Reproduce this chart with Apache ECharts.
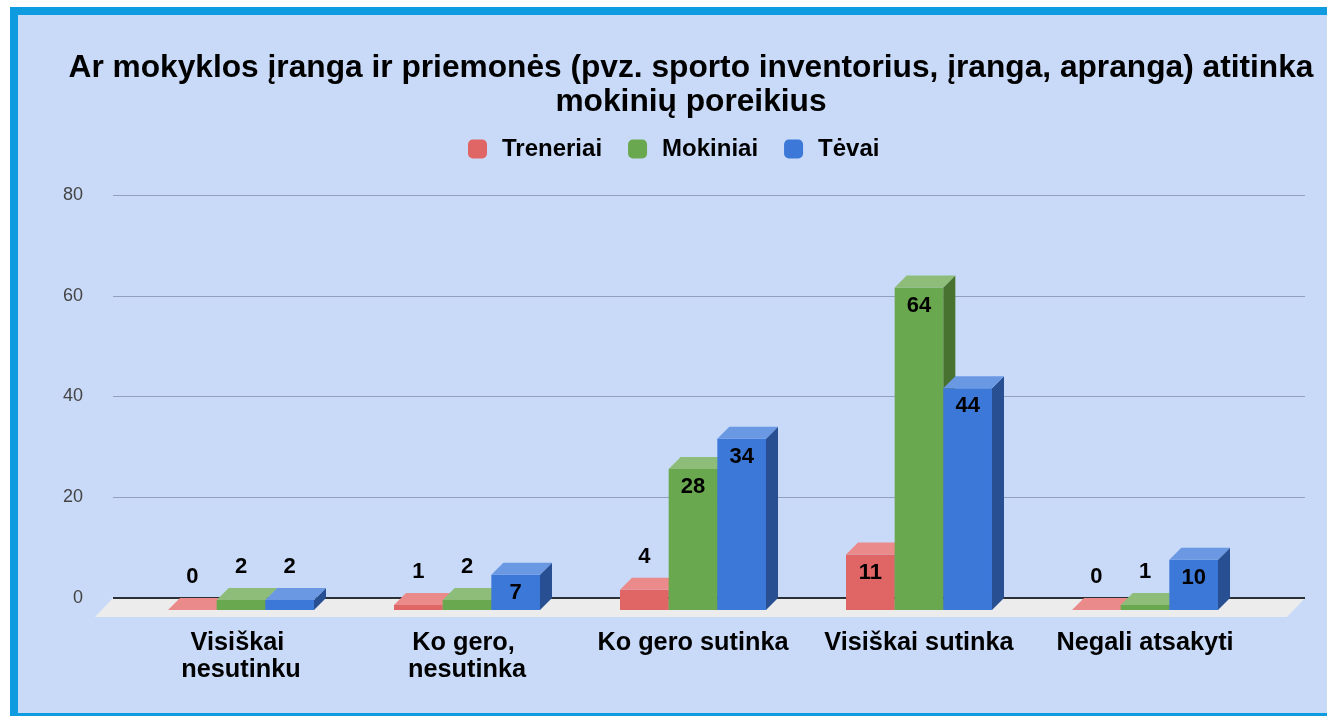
<!DOCTYPE html>
<html>
<head>
<meta charset="utf-8">
<script src="https://cdn.jsdelivr.net/npm/echarts@6/dist/echarts.min.js"></script>
<style>
  html, body { margin: 0; padding: 0; background: #ffffff; }
  #frame {
    position: absolute; left: 10px; top: 7px; right: 0; bottom: 0;
    box-sizing: border-box; background: #c9daf8;
    border-top: 8px solid #0f9be0; border-left: 8px solid #0f9be0; border-bottom: 3px solid #0f9be0;
  }
  #chart { position: absolute; left: 0; top: 0; width: 1327px; height: 716px; }
</style>
</head>
<body>
<div id="frame"></div>
<div id="chart"></div>
<script>
// Survey answers: does school equipment meet students' needs
const titleLines = ['Ar mokyklos įranga ir priemonės (pvz. sporto inventorius, įranga, apranga) atitinka', 'mokinių poreikius'];
const categories = ['Visiškai nesutinku', 'Ko gero, nesutinka', 'Ko gero sutinka', 'Visiškai sutinka', 'Negali atsakyti'];
const seriesNames = ['Treneriai', 'Mokiniai', 'Tėvai'];
const treneriai = [0, 1, 4, 11, 0];
const mokiniai = [2, 2, 28, 64, 1];
const tevai = [2, 7, 34, 44, 10];
const yTicks = [0, 20, 40, 60, 80];

const FONT = '"Liberation Sans", Arial, sans-serif';

// Face colours for each series: front, top, side
const faces = [
  { front: '#e06666', top: '#ea8a8a', side: '#aa4b4b' },
  { front: '#6aa84f', top: '#8dbd78', side: '#47722f' },
  { front: '#3c78d8', top: '#6a98e3', side: '#284f91' }
];

// Depth of the pseudo-3D extrusion (front face sits down-left of the value plane)
const DX = 12, DY = 12;
const GROUP_SHARE = 0.646;

function barRenderer(k) {
  return function (params, api) {
    const idx = api.value(0);
    const v = api.value(1);
    const p = api.coord([idx, v]);
    const p0 = api.coord([idx, 0]);
    const band = api.size([1, 0])[0];
    const w = band * GROUP_SHARE / 3;
    const backLeft = p[0] - 1.5 * w + k * w;
    const fl = backLeft - DX;
    const topY = p[1];
    const baseY = p0[1];
    const h = baseY - topY;
    const c = faces[k];
    const children = [
      { type: 'rect', shape: { x: fl, y: topY + DY, width: w, height: h }, style: { fill: c.front } },
      { type: 'polygon', shape: { points: [[fl + w, topY + DY], [fl + w + DX, topY], [fl + w + DX, baseY], [fl + w, baseY + DY]] }, style: { fill: c.side } },
      { type: 'polygon', shape: { points: [[fl, topY + DY], [fl + w, topY + DY], [fl + w + DX, topY], [fl + DX, topY]] }, style: { fill: c.top } }
    ];
    const inside = h >= 30;
    children.push({
      type: 'text',
      style: {
        text: String(v),
        x: fl + w / 2,
        y: inside ? topY + DY + 18 : topY - 21,
        textAlign: 'center',
        textVerticalAlign: 'middle',
        font: 'bold 22px ' + FONT,
        fill: '#000000'
      }
    });
    return { type: 'group', children: children };
  };
}

function floorRenderer(params, api) {
  const cs = params.coordSys;
  const x0 = cs.x, x1 = cs.x + cs.width;
  const yb = api.coord([0, yTicks[0]])[1];
  return {
    type: 'group',
    children: [
      { type: 'polygon', shape: { points: [[x0, yb], [x1, yb], [x1 - 18, yb + 19], [x0 - 18, yb + 19]] }, style: { fill: '#ececec' } },
      { type: 'line', shape: { x1: x0, y1: yb, x2: x1, y2: yb }, style: { stroke: '#2b2f36', lineWidth: 2 } }
    ]
  };
}

const seriesData = [treneriai, mokiniai, tevai];

const chart = echarts.init(document.getElementById('chart'), null, { renderer: 'canvas' });
chart.setOption({
  backgroundColor: 'transparent',
  animation: false,
  title: {
    text: titleLines.join('\n'),
    left: 686,
    top: 46,
    textAlign: 'center',
    textStyle: {
      fontFamily: FONT, fontWeight: 'bold', fontSize: 31.7, color: '#000000', lineHeight: 34
    }
  },
  legend: {
    data: seriesNames,
    left: 468,
    top: 137,
    padding: 0,
    itemWidth: 19,
    itemHeight: 19,
    itemGap: 26,
    icon: 'roundRect',
    textStyle: { fontFamily: FONT, fontWeight: 'bold', fontSize: 24, color: '#000000', padding: [0, 0, 0, 10] }
  },
  grid: [
    { left: 140, right: 57, top: 195, bottom: 118 },
    { left: 113, right: 22, top: 195, bottom: 118 }
  ],
  xAxis: [
    {
      type: 'category', gridIndex: 0, data: categories,
      axisLine: { show: false }, axisTick: { show: false },
      axisLabel: {
        margin: 32, interval: 0,
        fontFamily: FONT, fontWeight: 'bold', fontSize: 25.3, lineHeight: 27, color: '#000000',
        width: 205, overflow: 'break', padding: [0, 24, 0, 0]
      }
    },
    { type: 'value', gridIndex: 1, min: 0, max: 1, show: false }
  ],
  yAxis: [
    { type: 'value', gridIndex: 0, min: yTicks[0], max: yTicks[yTicks.length - 1], interval: 20, show: false },
    {
      type: 'value', gridIndex: 1, min: yTicks[0], max: yTicks[yTicks.length - 1], interval: 20,
      axisLine: { show: false }, axisTick: { show: false },
      axisLabel: { margin: 30, fontFamily: FONT, fontSize: 18, color: '#444444' },
      splitLine: { lineStyle: { color: '#929fbd', width: 1 } }
    }
  ],
  series: [
    {
      type: 'custom', name: 'floor', xAxisIndex: 1, yAxisIndex: 1, z: 1,
      data: [[0, 0]], renderItem: floorRenderer, silent: true
    }
  ].concat(seriesNames.map(function (name, k) {
    return {
      type: 'custom', name: name, xAxisIndex: 0, yAxisIndex: 0, z: 3 + k,
      itemStyle: { color: faces[k].front },
      encode: { x: 0, y: 1 },
      data: seriesData[k].map(function (v, i) { return [i, v]; }),
      renderItem: barRenderer(k)
    };
  }))
});
</script>
</body>
</html>
